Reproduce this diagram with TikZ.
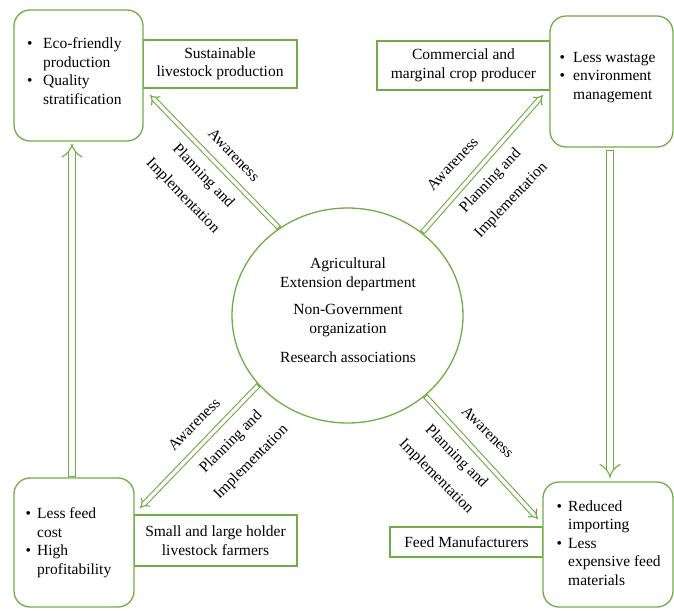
\documentclass[tikz,border=0pt]{standalone}
\usepackage{fontspec}
\setmainfont{Liberation Serif}
\usetikzlibrary{arrows.meta,calc,shapes.geometric}
\definecolor{grn}{RGB}{112,173,71}
\newlength{\bw}
\newcommand{\bitem}[1]{\makebox[\bw][l]{\textbullet}#1}
\newcommand{\bcont}[1]{\hspace*{\bw}#1}
\begin{document}
\begin{tikzpicture}[x=1pt,y=-1pt,
  font=\fontsize{15.5}{18.5}\selectfont,
  rbox/.style={draw=grn,line width=1.3pt,rounded corners=16pt,fill=white,inner sep=0pt},
  lbox/.style={draw=grn,line width=1.3pt,fill=white,align=center,inner sep=0pt},
  btext/.style={anchor=north west,align=left,inner sep=0pt},
  albl/.style={inner sep=0pt,align=center},
  darrow/.style={draw=grn,line width=1.1pt,double=white,double distance=3.4pt,{Bar[width=5.6pt]}-{Implies}},
  varrow/.style={draw=grn,line width=1.1pt,double=white,double distance=6.5pt,{Bar[width=8.7pt]}-{Implies}}
]
\useasboundingbox (0,0) rectangle (674,610);
% label rectangles
\node[lbox,minimum width=154pt,minimum height=48pt] (tll) at (220,64) {Sustainable\\livestock production};
\node[lbox,minimum width=173pt,minimum height=49pt] (trl) at (463.5,65.5) {Commercial and\\marginal crop producer};
\node[lbox,minimum width=163pt,minimum height=51pt] (bll) at (215.5,540.5) {Small and large holder\\livestock farmers};
\node[lbox,minimum width=153pt,minimum height=30pt] (brl) at (466.5,542) {Feed Manufacturers};
% rounded boxes
\node[rbox,minimum width=129pt,minimum height=131pt] (tl) at (78.5,75.5) {};
\node[rbox,minimum width=123pt,minimum height=131pt] (tr) at (611.5,81.5) {};
\node[rbox,minimum width=120pt,minimum height=129pt] (bl) at (74,542.5) {};
\node[rbox,minimum width=130pt,minimum height=125pt] (br) at (608,544.5) {};
% box texts
\setlength{\bw}{16pt}
\node[btext] (tlt) at (27,37.5) {\bitem{Eco-friendly}\\\bcont{production}\\\bitem{Quality}\\\bcont{stratification}};
\setlength{\bw}{13.5pt}
\node[btext] (trt) at (559.5,52) {\bitem{Less wastage}\\\bitem{environment}\\\bcont{management}};
\setlength{\bw}{11.5pt}
\node[btext] (blt) at (25.5,507.5) {\bitem{Less feed}\\\bcont{cost}\\\bitem{High}\\\bcont{profitability}};
\node[btext] (brt) at (556.5,500.5) {\bitem{Reduced}\\\bcont{importing}\\\bitem{Less}\\\bcont{expensive feed}\\\bcont{materials}};
% centre
\node[ellipse,draw=grn,line width=1.3pt,minimum width=231pt,minimum height=215pt,inner sep=0pt] (c) at (347.5,315.5) {};
\node[align=center,inner sep=0pt] (ct) at (348,310.5) {Agricultural\\Extension department\\[9pt]Non-Government\\organization\\[11pt]Research associations};
% arrow targets
\coordinate (tlh) at (150,95);
\coordinate (trh) at (543,95);
\coordinate (blh) at (140,508);
\coordinate (brh) at (538,519);
% diagonal arrows
\draw[darrow] (c.128.5) -- (tlh);
\draw[darrow] (c.48.6) -- (trh);
\draw[darrow] (c.218.2) -- (blh);
\draw[darrow] (c.314.3) -- (brh);
% vertical arrows
\draw[varrow,shorten <=0.5pt,shorten >=2pt] ([xshift=-2pt]bl.north) -- ([xshift=-2pt]bl.north |- tl.south);
\draw[varrow,shorten <=2.5pt,shorten >=3.5pt] ([xshift=-1.5pt]tr.south) -- ([xshift=-1.5pt]tr.south |- br.north);
% arrow labels
\node[albl,rotate=-46] (a1) at (234,155) {Awareness};
\node[albl,rotate=-46] (p1) at (192.75,186.25) {Planning and\\[10pt]Implementation};
\node[albl,rotate=46.5] (a2) at (452.5,163.5) {Awareness};
\node[albl,rotate=46.5] (p2) at (501,190.75) {Planning and\\[10pt]Implementation};
\node[albl,rotate=45] (a3) at (194,424) {Awareness};
\node[albl,rotate=45] (p3) at (241.25,452.25) {Planning and\\[10pt]Implementation};
\node[albl,rotate=-45] (a4) at (488,432) {Awareness};
\node[albl,rotate=-45] (p4) at (446,466.75) {Planning and\\[10pt]Implementation};
\end{tikzpicture}
\end{document}
